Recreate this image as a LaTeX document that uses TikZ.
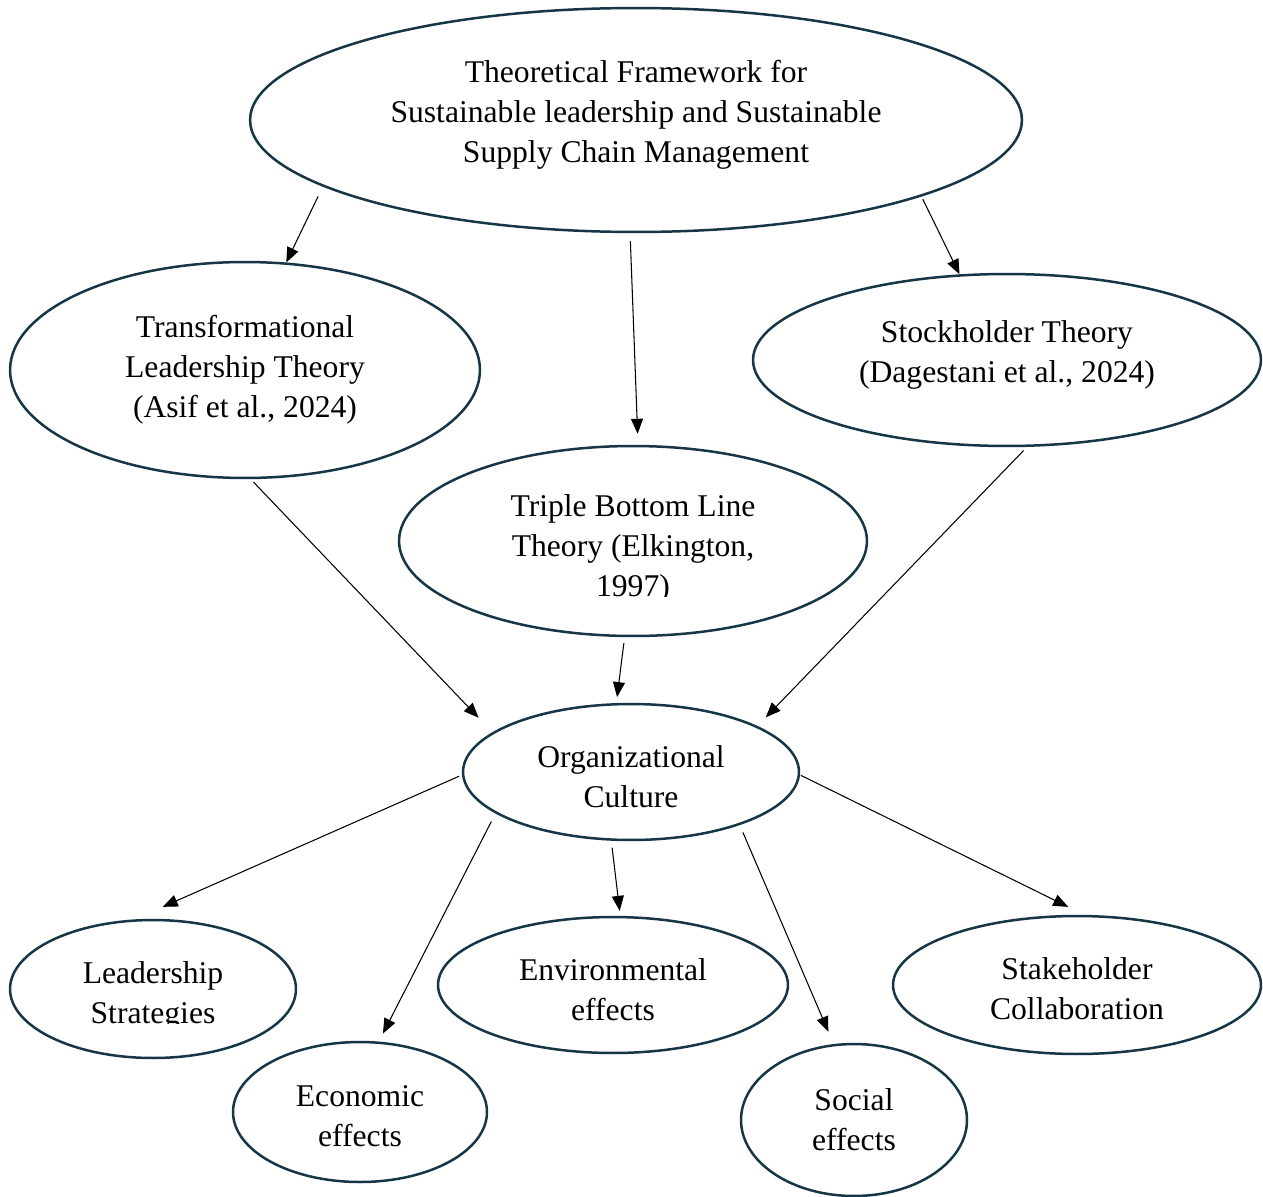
\documentclass[tikz,border=0pt]{standalone}
\usepackage{fontspec}
\setmainfont{Liberation Serif}
\usepackage{xcolor}
\usepackage{tikz}
\usetikzlibrary{arrows.meta, shapes.geometric}
\definecolor{navy}{RGB}{22,54,70}

\begin{document}
\begin{tikzpicture}[x=0.02cm, y=-0.02cm,
    bubble/.style={ellipse, draw=navy, line width=0.05cm, inner sep=0pt,
        align=center, font=\fontsize{18}{22.8}\selectfont},
    link/.style={-{Triangle[length=0.3cm, width=0.24cm]}, line width=0.6pt}]

    % Fix the page to the size of the picture
    \useasboundingbox (0,0) rectangle (1263,1196);

    % Framework at the top
    \node[bubble, minimum width=15.44cm, minimum height=4.48cm] (frame) at (636,120)
        {Theoretical Framework for\\Sustainable leadership and Sustainable\\Supply Chain Management\rule[-9.6pt]{0pt}{0pt}};

    % The three theories
    \node[bubble, minimum width=9.4cm, minimum height=4.32cm] (trans) at (245,370)
        {Transformational\\Leadership Theory\\(Asif et al., 2024)};
    \node[bubble, minimum width=10.16cm, minimum height=3.44cm] (stock) at (1007,360)
        {Stockholder Theory\\(Dagestani et al., 2024)\rule[-9.7pt]{0pt}{0pt}};
    \node[bubble, minimum width=9.36cm, minimum height=3.8cm] (triple) at (633,541)
        {\rule{0pt}{21.4pt}Triple Bottom Line\\Theory (Elkington,\\1997)};

    % Culture in the middle
    \node[bubble, minimum width=6.72cm, minimum height=2.72cm] (culture) at (631,772)
        {\rule{0pt}{18pt}Organizational\\Culture};

    % Outcomes at the bottom
    \node[bubble, minimum width=5.72cm, minimum height=2.76cm] (strat) at (153,989)
        {\rule{0pt}{20.3pt}Leadership\\Strategies};
    \node[bubble, minimum width=5.08cm, minimum height=2.8cm] (econ) at (360,1112)
        {\rule{0pt}{16.5pt}Economic\\effects};
    \node[bubble, minimum width=7.0cm, minimum height=2.72cm] (env) at (613,985)
        {\rule{0pt}{18pt}Environmental\\effects};
    \node[bubble, minimum width=4.52cm, minimum height=3.04cm] (social) at (854,1120)
        {Social\\effects};
    \node[bubble, minimum width=7.36cm, minimum height=2.76cm] (stake) at (1077,985)
        {\rule{0pt}{16.9pt}Stakeholder\\Collaboration};

    % Cut-off text boxes
    \fill[white] (585,597) rectangle (685,610);
    \fill[white] (80,1024) rectangle (230,1034);

    % Arrows from the framework
    \draw[link, shorten <=0.22cm] (frame.192) -- (trans.69);
    \draw[link, shorten <=0.16cm, shorten >=0.22cm] (frame.267) -- (triple.87);
    \draw[link, shorten <=0.06cm] (frame.345) -- (stock.119);

    % Arrows into the culture
    \draw[link, shorten <=0.08cm, shorten >=0.4cm] (trans.273) -- (culture.164);
    \draw[link, shorten <=0.12cm, shorten >=0.12cm] (triple.265) -- (culture.102);
    \draw[link, shorten <=0.1cm, shorten >=0.24cm] (stock.283) -- (culture.20);

    % Arrows to the outcomes
    \draw[link, shorten <=0.06cm, shorten >=0.62cm] (culture.181) -- (strat.105);
    \draw[link, shorten <=0.18cm, shorten >=0.18cm] (culture.197) -- (econ.75);
    \draw[link, shorten <=0.14cm, shorten >=0.1cm] (culture.254) -- (env.84);
    \draw[link, shorten <=0.16cm, shorten >=0.27cm] (culture.334) -- (social.105);
    \draw[link, shorten <=0.02cm, shorten >=0.36cm] (culture.359) -- (stake.84);

\end{tikzpicture}
\end{document}
